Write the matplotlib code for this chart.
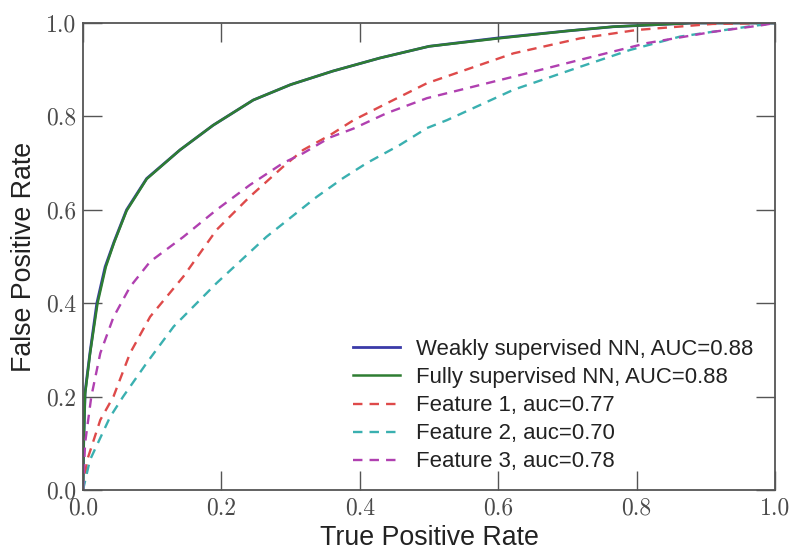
import matplotlib
matplotlib.use("Agg")
import matplotlib.pyplot as plt

# ROC curves
nn_weak_x = [0.0, 0.001, 0.003, 0.010, 0.020, 0.032, 0.045, 0.063, 0.092, 0.140, 0.188, 0.246, 0.300, 0.361, 0.429, 0.500, 0.600, 0.700, 0.766, 0.880, 1.0]
nn_weak_y = [0.0, 0.100, 0.210, 0.293, 0.400, 0.478, 0.532, 0.600, 0.667, 0.728, 0.781, 0.835, 0.868, 0.897, 0.925, 0.950, 0.968, 0.983, 0.992, 1.000, 1.0]

nn_full_x = [0.0, 0.001, 0.003, 0.010, 0.021, 0.033, 0.045, 0.063, 0.092, 0.140, 0.188, 0.246, 0.300, 0.361, 0.429, 0.500, 0.600, 0.700, 0.766, 0.880, 1.0]
nn_full_y = [0.0, 0.100, 0.205, 0.290, 0.400, 0.478, 0.530, 0.598, 0.666, 0.728, 0.781, 0.835, 0.868, 0.897, 0.925, 0.950, 0.967, 0.983, 0.992, 1.000, 1.0]

feat1_x = [0.0, 0.006, 0.025, 0.044, 0.068, 0.097, 0.145, 0.193, 0.241, 0.289, 0.318, 0.357, 0.391, 0.439, 0.497, 0.622, 0.718, 0.800, 0.910, 1.0]
feat1_y = [0.0, 0.064, 0.150, 0.200, 0.293, 0.371, 0.457, 0.557, 0.628, 0.692, 0.728, 0.760, 0.792, 0.828, 0.871, 0.935, 0.967, 0.985, 0.998, 1.0]

feat2_x = [0.0, 0.010, 0.039, 0.058, 0.092, 0.131, 0.193, 0.265, 0.338, 0.376, 0.410, 0.458, 0.497, 0.526, 0.622, 0.718, 0.790, 0.863, 0.960, 1.0]
feat2_y = [0.0, 0.064, 0.156, 0.200, 0.272, 0.350, 0.443, 0.542, 0.628, 0.668, 0.700, 0.739, 0.775, 0.792, 0.857, 0.906, 0.942, 0.971, 0.992, 1.0]

feat3_x = [0.0, 0.003, 0.012, 0.025, 0.044, 0.068, 0.097, 0.145, 0.193, 0.241, 0.289, 0.318, 0.357, 0.391, 0.439, 0.497, 0.622, 0.718, 0.815, 0.910, 0.980, 1.0]
feat3_y = [0.0, 0.100, 0.200, 0.293, 0.370, 0.435, 0.489, 0.542, 0.600, 0.653, 0.700, 0.721, 0.755, 0.774, 0.807, 0.839, 0.885, 0.921, 0.957, 0.981, 0.995, 1.0]

labels = [
    "Weakly supervised NN, AUC=0.88",
    "Fully supervised NN, AUC=0.88",
    "Feature 1, auc=0.77",
    "Feature 2, auc=0.70",
    "Feature 3, auc=0.78",
]
ticks = [0.0, 0.2, 0.4, 0.6, 0.8, 1.0]
tick_labels = ["0.0", "0.2", "0.4", "0.6", "0.8", "1.0"]

fig = plt.figure(figsize=(7.89, 5.5), dpi=100)
ax = fig.add_axes([0.1052, 0.1091, 0.8771, 0.8491])

ax.plot(nn_weak_x, nn_weak_y, color="#3a3aa8", lw=2.0, label=labels[0])
ax.plot(nn_full_x, nn_full_y, color="#2e7d32", lw=1.8, label=labels[1])
dash = (0, (4, 3))
ax.plot(feat1_x, feat1_y, color="#de4a4a", lw=1.7, ls=dash, label=labels[2])
ax.plot(feat2_x, feat2_y, color="#3ab0b0", lw=1.7, ls=dash, label=labels[3])
ax.plot(feat3_x, feat3_y, color="#b040b0", lw=1.7, ls=dash, label=labels[4])

ax.set_xlim(0, 1)
ax.set_ylim(0, 1)
ax.set_xticks(ticks)
ax.set_yticks(ticks)
ax.set_xticklabels(tick_labels, fontfamily="cmr10", fontsize=17, color="#4a4a4a")
ax.set_yticklabels(tick_labels, fontfamily="cmr10", fontsize=17, color="#4a4a4a")
ax.tick_params(direction="in", length=13.5, width=1.0, color="#555555",
               top=True, right=True, pad=5)

for s in ax.spines.values():
    s.set_color("#555555")
    s.set_linewidth(1.3)

ax.set_xlabel("True Positive Rate", fontfamily="Liberation Sans", fontsize=19.3, labelpad=4, color="#222222")
ax.set_ylabel("False Positive Rate", fontfamily="Liberation Sans", fontsize=19.3, labelpad=6, color="#222222")

leg = ax.legend(loc="upper left", bbox_to_anchor=(0.39, 0.323), frameon=False,
                prop={"family": "Liberation Sans", "size": 15.9},
                handlelength=2.15, handletextpad=0.7, labelspacing=0.32,
                borderpad=0, borderaxespad=0)
for t in leg.get_texts():
    t.set_color("#222222")

fig.savefig("out.png", dpi=100)
